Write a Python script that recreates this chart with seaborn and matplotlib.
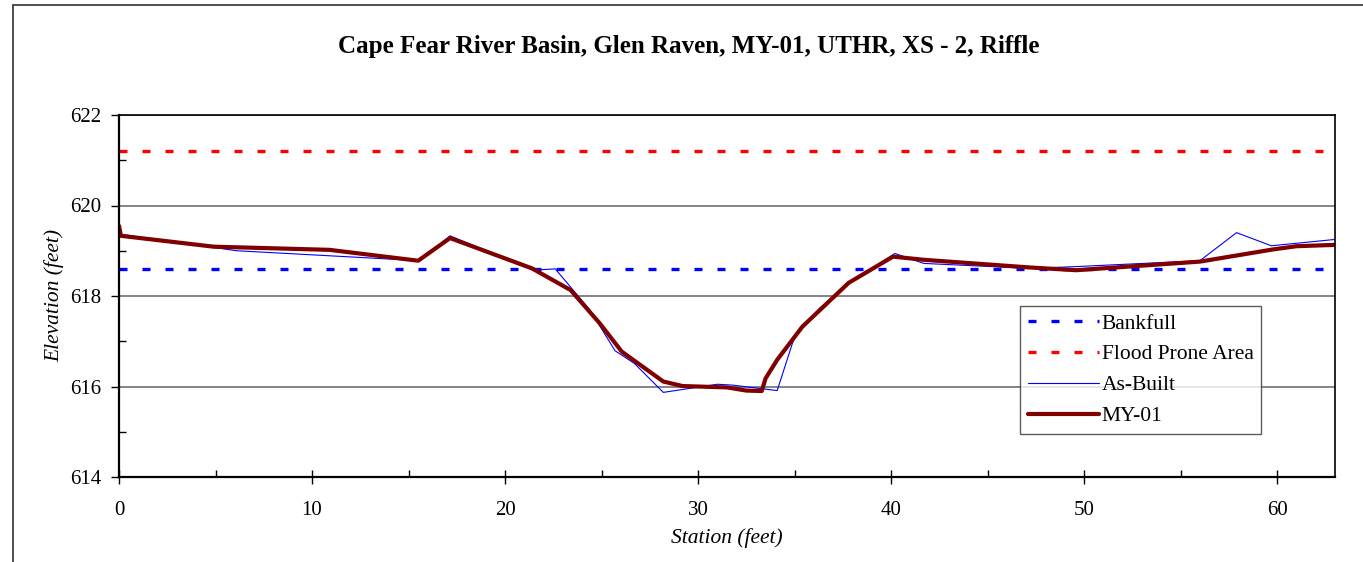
import numpy as np
import pandas as pd
import matplotlib
matplotlib.use("Agg")
import matplotlib.pyplot as plt
from matplotlib.lines import Line2D
from matplotlib.ticker import MultipleLocator
import seaborn as sns

# Survey data
asbuilt_station = [0.0, 6.1, 15.6, 17.15, 21.45, 22.6, 24.4, 25.7, 26.7, 28.2, 31.0, 31.8,
                   34.1, 35.0, 36.3, 37.8, 40.2, 41.7, 47.2, 49.6, 56.0, 57.9, 59.7, 63.0]
asbuilt_elev = [619.37, 619.0, 618.78, 619.33, 618.57, 618.6, 617.69, 616.79, 616.51, 615.87,
                616.05, 616.03, 615.91, 617.1, 617.73, 618.28, 618.94, 618.72, 618.61, 618.65,
                618.78, 619.40, 619.11, 619.25]

my01_station = [0.0, 0.1, 4.9, 10.9, 15.5, 17.15, 21.4, 23.4, 24.9, 26.05, 28.2, 29.2, 31.5,
                32.5, 33.3, 33.5, 34.1, 35.4, 37.8, 40.1, 41.7, 47.2, 49.6, 56.0, 59.8, 61.0, 63.0]
my01_elev = [619.55, 619.33, 619.09, 619.02, 618.78, 619.28, 618.61, 618.13, 617.40, 616.77,
             616.11, 616.01, 615.98, 615.91, 615.90, 616.18, 616.59, 617.32, 618.29, 618.87,
             618.80, 618.63, 618.57, 618.76, 619.03, 619.10, 619.13]

level_station = [0.0, 63.0]
bankfull_elev = 618.6
flood_prone_elev = 621.2

sns.set_style("white")
plt.rcParams["font.family"] = ["Liberation Serif", "DejaVu Serif"]
plt.rcParams["text.color"] = "black"
plt.rcParams["axes.labelcolor"] = "black"
plt.rcParams["xtick.color"] = "black"
plt.rcParams["ytick.color"] = "black"

fig = plt.figure(figsize=(13.63, 5.62), dpi=100)
ax = fig.add_axes([119 / 1363, 1 - 477 / 562, (1335 - 119) / 1363, (477 - 115) / 562])

# Gridlines on the major y ticks
ax.grid(axis="y", color="#707070", linewidth=1.2)
ax.set_axisbelow(True)

sns.lineplot(x=level_station, y=[bankfull_elev] * 2, ax=ax, color="#0000FF",
             linewidth=2.4, dashes=False, label="Bankfull").lines[-1].set_dashes((2.4, 4.5))
sns.lineplot(x=level_station, y=[flood_prone_elev] * 2, ax=ax, color="#FF0000",
             linewidth=2.4, label="Flood Prone Area").lines[-1].set_dashes((2.4, 4.5))
sns.lineplot(x=asbuilt_station, y=asbuilt_elev, ax=ax, color="#0000FF", linewidth=0.8,
             sort=False, estimator=None, label="As-Built")
sns.lineplot(x=my01_station, y=my01_elev, ax=ax, color="#800000", linewidth=3.0,
             sort=False, estimator=None, label="MY-01")

ax.set_xlim(0, 63)
ax.set_ylim(614, 622)
ax.xaxis.set_major_locator(MultipleLocator(10))
ax.xaxis.set_minor_locator(MultipleLocator(5))
ax.yaxis.set_major_locator(MultipleLocator(2))
ax.yaxis.set_minor_locator(MultipleLocator(1))

ax.tick_params(axis="x", which="major", direction="inout", length=10, width=1,
               color="black", labelsize=15, pad=12, bottom=True)
ax.tick_params(axis="x", which="minor", direction="in", length=5, width=1,
               color="black", bottom=True)
ax.tick_params(axis="y", which="major", direction="out", length=6, width=1,
               color="black", labelsize=15, pad=7, left=True)
ax.tick_params(axis="y", which="minor", direction="in", length=5, width=1,
               color="black", left=True)

for side in ["left", "bottom"]:
    ax.spines[side].set_color("black")
    ax.spines[side].set_linewidth(1.6)
for side in ["top", "right"]:
    ax.spines[side].set_color("black")
    ax.spines[side].set_linewidth(1.2)

ax.set_xlabel("Station (feet)", fontsize=15.5, style="italic", labelpad=6)
ax.set_ylabel("Elevation (feet)", fontsize=15.5, style="italic", labelpad=4)

leg = ax.legend(loc="upper left", bbox_to_anchor=((1020 - 119) / 1216, 1 - (306 - 115) / 362),
                fontsize=15.5, frameon=True, fancybox=False, shadow=False,
                handlelength=3.3, handletextpad=0.15, borderpad=0.35, labelspacing=0.5,
                borderaxespad=0)
leg.get_frame().set_edgecolor("#333333")
leg.get_frame().set_linewidth(1.0)

fig.text(689 / 1363, 1 - 47 / 562, "Cape Fear River Basin, Glen Raven, MY-01, UTHR, XS - 2, Riffle",
         ha="center", va="center", fontsize=18, fontweight="bold")

# Outer chart frame (left and top edges visible)
fig.add_artist(Line2D([12.5 / 1363, 12.5 / 1363], [0, 1 - 5 / 562], transform=fig.transFigure,
                      color="#333333", linewidth=1.2))
fig.add_artist(Line2D([12.5 / 1363, 1], [1 - 5 / 562, 1 - 5 / 562], transform=fig.transFigure,
                      color="#333333", linewidth=1.2))

fig.savefig("out.png", dpi=100, facecolor="white")
